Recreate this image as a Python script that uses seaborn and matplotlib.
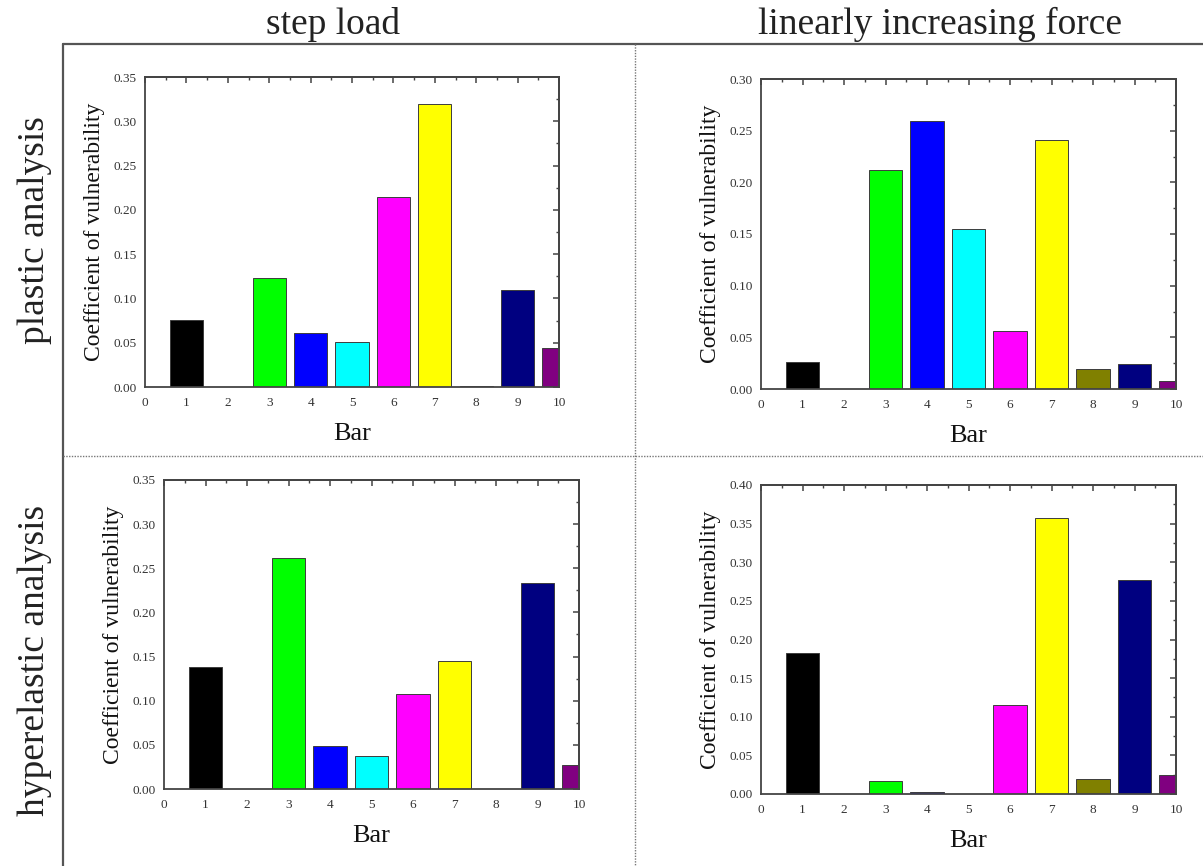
import matplotlib
matplotlib.use("Agg")
import matplotlib.pyplot as plt
import seaborn as sns
import pandas as pd
from matplotlib.ticker import MultipleLocator, FormatStrFormatter, NullFormatter
from matplotlib.lines import Line2D

# ---------------- data ----------------
bar_ids = [1, 2, 3, 4, 5, 6, 7, 8, 9, 10]
bar_colors = ["#000000", "#FF0000", "#00FF00", "#0000FF", "#00FFFF",
              "#FF00FF", "#FFFF00", "#808000", "#000080", "#800080"]

step_plastic = [0.076, 0.0, 0.123, 0.061, 0.051, 0.214, 0.319, 0.001, 0.110, 0.044]
linear_plastic = [0.026, 0.0, 0.212, 0.259, 0.155, 0.056, 0.241, 0.019, 0.024, 0.008]
step_hyper = [0.138, 0.0, 0.262, 0.049, 0.037, 0.108, 0.145, 0.0, 0.233, 0.027]
linear_hyper = [0.182, 0.0005, 0.017, 0.003, 0.0005, 0.115, 0.357, 0.019, 0.277, 0.025]

col_titles = ["step load", "linearly increasing force"]
row_titles = ["plastic analysis", "hyperelastic analysis"]
x_label = "Bar"
y_label = "Coefficient of vulnerability"
y_max = [0.35, 0.30, 0.35, 0.40]

# ---------------- style ----------------
sns.set_theme(style="white")
plt.rcParams['font.family'] = ['Liberation Serif', 'DejaVu Serif']

W, H = 1203, 866
fig = plt.figure(figsize=(W / 100, H / 100), dpi=100)

def rect(l, t, r, b):
    return [l / W, 1 - b / H, (r - l) / W, (b - t) / H]

panel_rects = [rect(145, 77, 559, 387), rect(761, 79, 1176, 389),
               rect(164, 480, 579, 789), rect(761, 485, 1176, 794)]
panel_data = [step_plastic, linear_plastic, step_hyper, linear_hyper]

axis_col = "#444444"
label_col = "#333333"
palette = {str(b): c for b, c in zip(bar_ids, bar_colors)}

for r_, vals, ymax in zip(panel_rects, panel_data, y_max):
    ax = fig.add_axes(r_)
    df = pd.DataFrame({"bar": bar_ids, "value": vals,
                       "key": [str(b) for b in bar_ids]})
    sns.barplot(data=df, x="bar", y="value", hue="key", palette=palette,
                native_scale=True, width=0.8, saturation=1, legend=False,
                edgecolor="#3c3c3c", linewidth=0.7, ax=ax)
    ax.set_xlim(0, 10)
    ax.set_ylim(0, ymax)
    ax.xaxis.set_major_locator(MultipleLocator(1))
    ax.xaxis.set_minor_locator(MultipleLocator(0.5))
    ax.yaxis.set_major_locator(MultipleLocator(0.05))
    ax.yaxis.set_minor_locator(MultipleLocator(0.025))
    ax.yaxis.set_major_formatter(FormatStrFormatter("%.2f"))
    ax.xaxis.set_major_formatter(FormatStrFormatter("%d"))
    for s in ax.spines.values():
        s.set_visible(True)
        s.set_color(axis_col)
        s.set_linewidth(1.3)
    ax.tick_params(axis="x", which="major", direction="inout", length=7,
                   width=1.1, color=axis_col, labelsize=9.5, labelcolor=label_col, pad=4)
    ax.tick_params(axis="x", which="minor", direction="inout", length=4,
                   width=1.0, color=axis_col)
    ax.tick_params(axis="y", which="major", direction="out", length=4,
                   width=1.1, color=axis_col, labelsize=9.5, labelcolor=label_col, pad=2)
    ax.tick_params(axis="y", which="minor", direction="out", length=2.5,
                   width=1.0, color=axis_col)
    ax.set_xlabel(x_label, fontsize=19, labelpad=10, color="#111111")
    ax.set_ylabel(y_label, fontsize=17, labelpad=6, color="#111111")

    top = ax.secondary_xaxis("top")
    top.xaxis.set_major_locator(MultipleLocator(1))
    top.xaxis.set_minor_locator(MultipleLocator(0.5))
    top.xaxis.set_major_formatter(NullFormatter())
    top.tick_params(which="major", direction="in", length=4, width=1.1, color=axis_col)
    top.tick_params(which="minor", direction="in", length=2.5, width=1.0, color=axis_col)
    top.spines["top"].set_color(axis_col)
    top.spines["top"].set_linewidth(1.3)

    right = ax.secondary_yaxis("right")
    right.yaxis.set_major_locator(MultipleLocator(0.05))
    right.yaxis.set_minor_locator(MultipleLocator(0.025))
    right.yaxis.set_major_formatter(NullFormatter())
    right.tick_params(which="major", direction="in", length=4, width=1.1, color=axis_col)
    right.tick_params(which="minor", direction="in", length=2.5, width=1.0, color=axis_col)
    right.spines["right"].set_color(axis_col)
    right.spines["right"].set_linewidth(1.3)

# ---------------- frame & headers ----------------
def fx(x):
    return x / W

def fy(y):
    return 1 - y / H

fig.add_artist(Line2D([fx(63), fx(1203)], [fy(44), fy(44)], color="#555555", lw=1.6))
fig.add_artist(Line2D([fx(63), fx(63)], [fy(44), fy(866)], color="#555555", lw=1.6))
fig.add_artist(Line2D([fx(635), fx(635)], [fy(44), fy(866)], color="#777777", lw=1.0,
                      linestyle=(0, (1, 1))))
fig.add_artist(Line2D([fx(63), fx(1203)], [fy(456), fy(456)], color="#777777", lw=1.0,
                      linestyle=(0, (1, 1))))

fig.text(fx(333), fy(24), col_titles[0], fontsize=27, ha="center", va="center", color="#222222")
fig.text(fx(940), fy(24), col_titles[1], fontsize=27, ha="center", va="center", color="#222222")
fig.text(fx(35), fy(230), row_titles[0], fontsize=27, ha="center", va="center",
         rotation=90, color="#222222")
fig.text(fx(35), fy(660), row_titles[1], fontsize=27, ha="center", va="center",
         rotation=90, color="#222222")

fig.savefig("out.png", dpi=100, facecolor="white")
